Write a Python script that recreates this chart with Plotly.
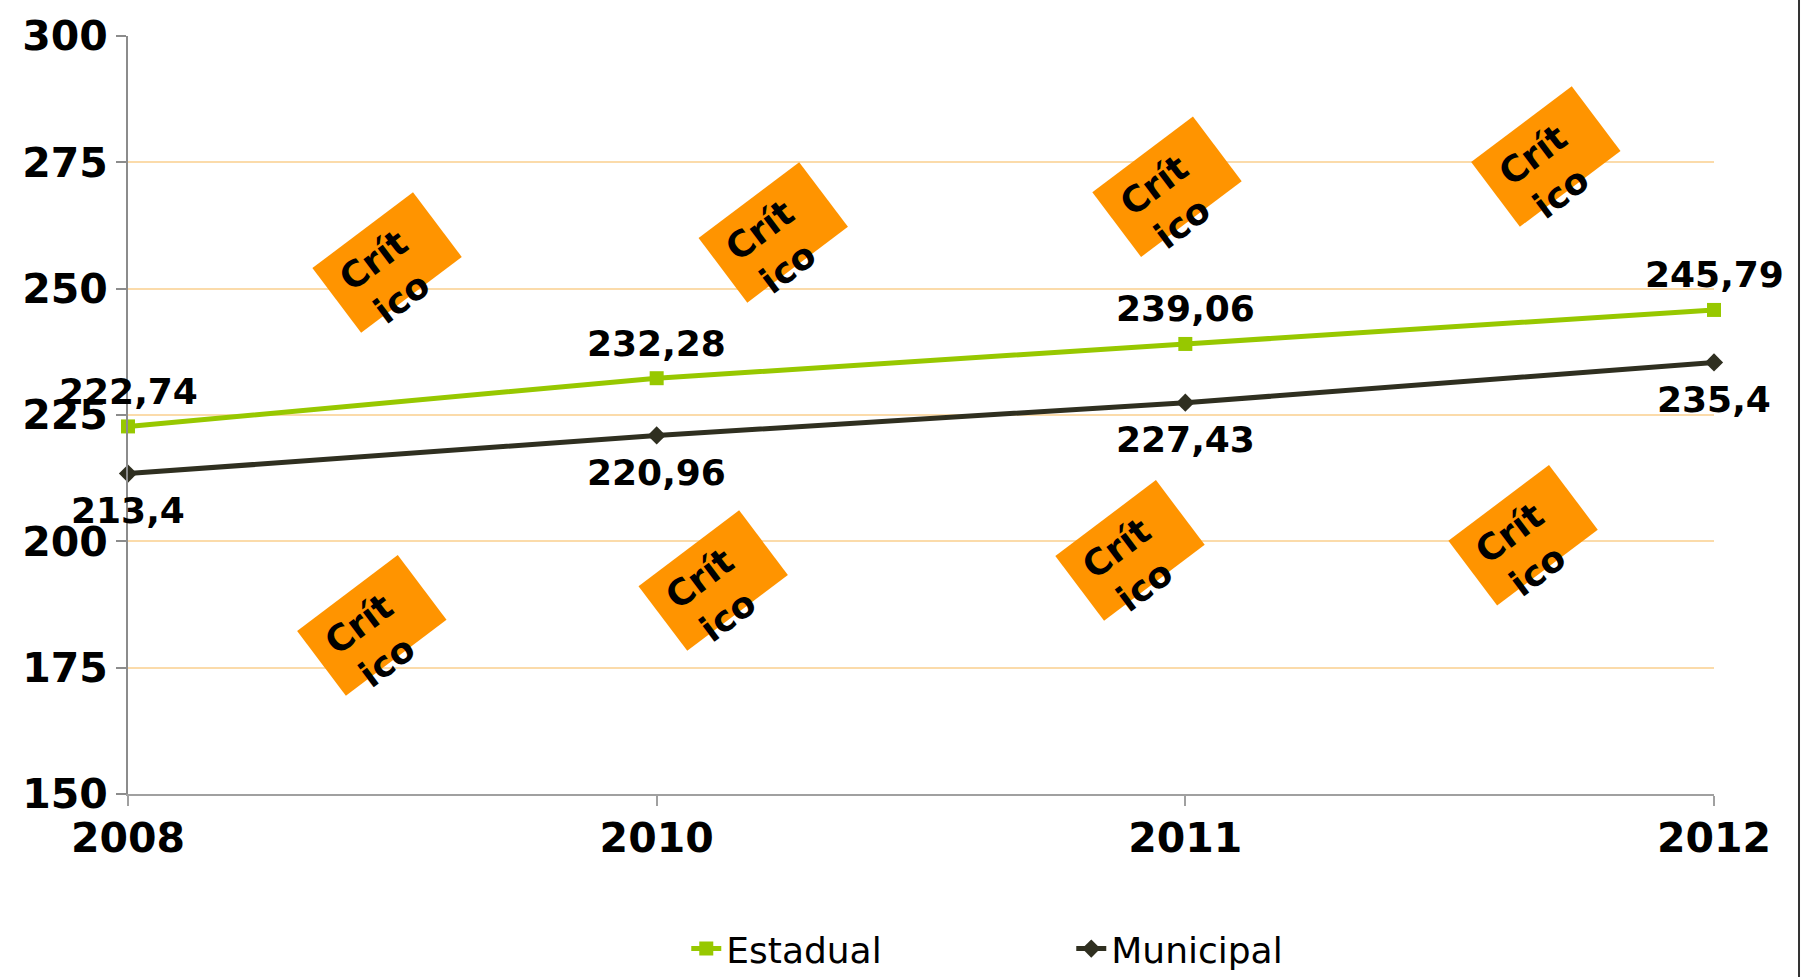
import plotly.graph_objects as go

# ---- data ----
years = ["2008", "2010", "2011", "2012"]
estadual = [222.74, 232.28, 239.06, 245.79]
municipal = [213.4, 220.96, 227.43, 235.4]
estadual_labels = ["222,74", "232,28", "239,06", "245,79"]
municipal_labels = ["213,4", "220,96", "227,43", "235,4"]
y_ticks = [150, 175, 200, 225, 250, 275, 300]

critico_text = "Crít<br>ico"
# (category index position, y value) of the "Crítico" call-out boxes
critico_x = [0.490, 1.220, 1.966, 2.682, 0.461, 1.107, 1.895, 2.638]
critico_y = [255.2, 261.2, 270.2, 276.1, 183.3, 192.3, 198.2, 201.2]

GREEN = "#97C800"
DARK = "#2F2F20"
ORANGE = "#FF9400"
GRID = "#FBDBAA"
FONT = "DejaVu Sans"

fig = go.Figure()

fig.add_trace(go.Scatter(
    x=years, y=estadual, name="Estadual", mode="lines+markers",
    line=dict(color=GREEN, width=5),
    marker=dict(symbol="square", size=14, color=GREEN),
    cliponaxis=False,
))
fig.add_trace(go.Scatter(
    x=years, y=municipal, name="Municipal", mode="lines+markers",
    line=dict(color=DARK, width=5),
    marker=dict(symbol="diamond", size=14, color=DARK),
    cliponaxis=False,
))

label_font = dict(family=FONT, size=36, color="black", weight="bold")
annotations = []
for i, (yv, t) in enumerate(zip(estadual, estadual_labels)):
    annotations.append(dict(x=i, y=yv, xref="x", yref="y", text=t,
                            showarrow=False, yshift=35, font=label_font))
for i, (yv, t) in enumerate(zip(municipal, municipal_labels)):
    annotations.append(dict(x=i, y=yv, xref="x", yref="y", text=t,
                            showarrow=False, yshift=-37, font=label_font))

for cx, cy in zip(critico_x, critico_y):
    annotations.append(dict(
        x=cx, y=cy, xref="x", yref="y", text=" ", showarrow=False,
        width=126, height=81, bgcolor=ORANGE, borderpad=0, borderwidth=0,
        textangle=-37, font=dict(size=10),
    ))
    annotations.append(dict(
        x=cx, y=cy, xref="x", yref="y", text=critico_text, showarrow=False,
        textangle=-37, xshift=1, yshift=-17,
        font=dict(family=FONT, size=36, color="black", weight="bold"),
    ))

fig.update_layout(
    width=1801, height=977,
    margin=dict(l=128, r=87, t=36, b=183, autoexpand=False),
    paper_bgcolor="white", plot_bgcolor="white",
    font=dict(family=FONT, color="black"),
    showlegend=True,
    legend=dict(
        orientation="h", x=0.352, xanchor="left", y=-0.204, yanchor="middle",
        font=dict(family=FONT, size=36, color="black"),
        entrywidth=340, entrywidthmode="pixels",
        bgcolor="rgba(0,0,0,0)",
    ),
    annotations=annotations,
    shapes=[dict(type="line", xref="paper", yref="paper",
                 x0=1.0536, x1=1.0536, y0=-0.245, y1=1.05,
                 line=dict(color="#333333", width=2))],
)

fig.update_xaxes(
    type="category", range=[0, 3], showgrid=False,
    showline=True, linecolor="#A0A0A0", linewidth=2,
    ticks="outside", ticklen=10, tickcolor="#A0A0A0", tickwidth=2,
    tickfont=dict(family=FONT, size=41, color="black", weight="bold"),
    ticklabelstandoff=-3,
)
fig.update_yaxes(
    range=[150, 300], tickvals=y_ticks, ticktext=[str(v) for v in y_ticks],
    showgrid=True, gridcolor=GRID, gridwidth=1.5, zeroline=False,
    showline=True, linecolor="#8C8C8C", linewidth=2,
    ticks="outside", ticklen=10, tickcolor="#8C8C8C", tickwidth=2,
    tickfont=dict(family=FONT, size=41, color="black", weight="bold"),
    ticklabelstandoff=0,
)

fig.write_html("out.html", config={"displayModeBar": False},
               post_script="document.body.style.margin='0';document.body.style.overflow='hidden';")
